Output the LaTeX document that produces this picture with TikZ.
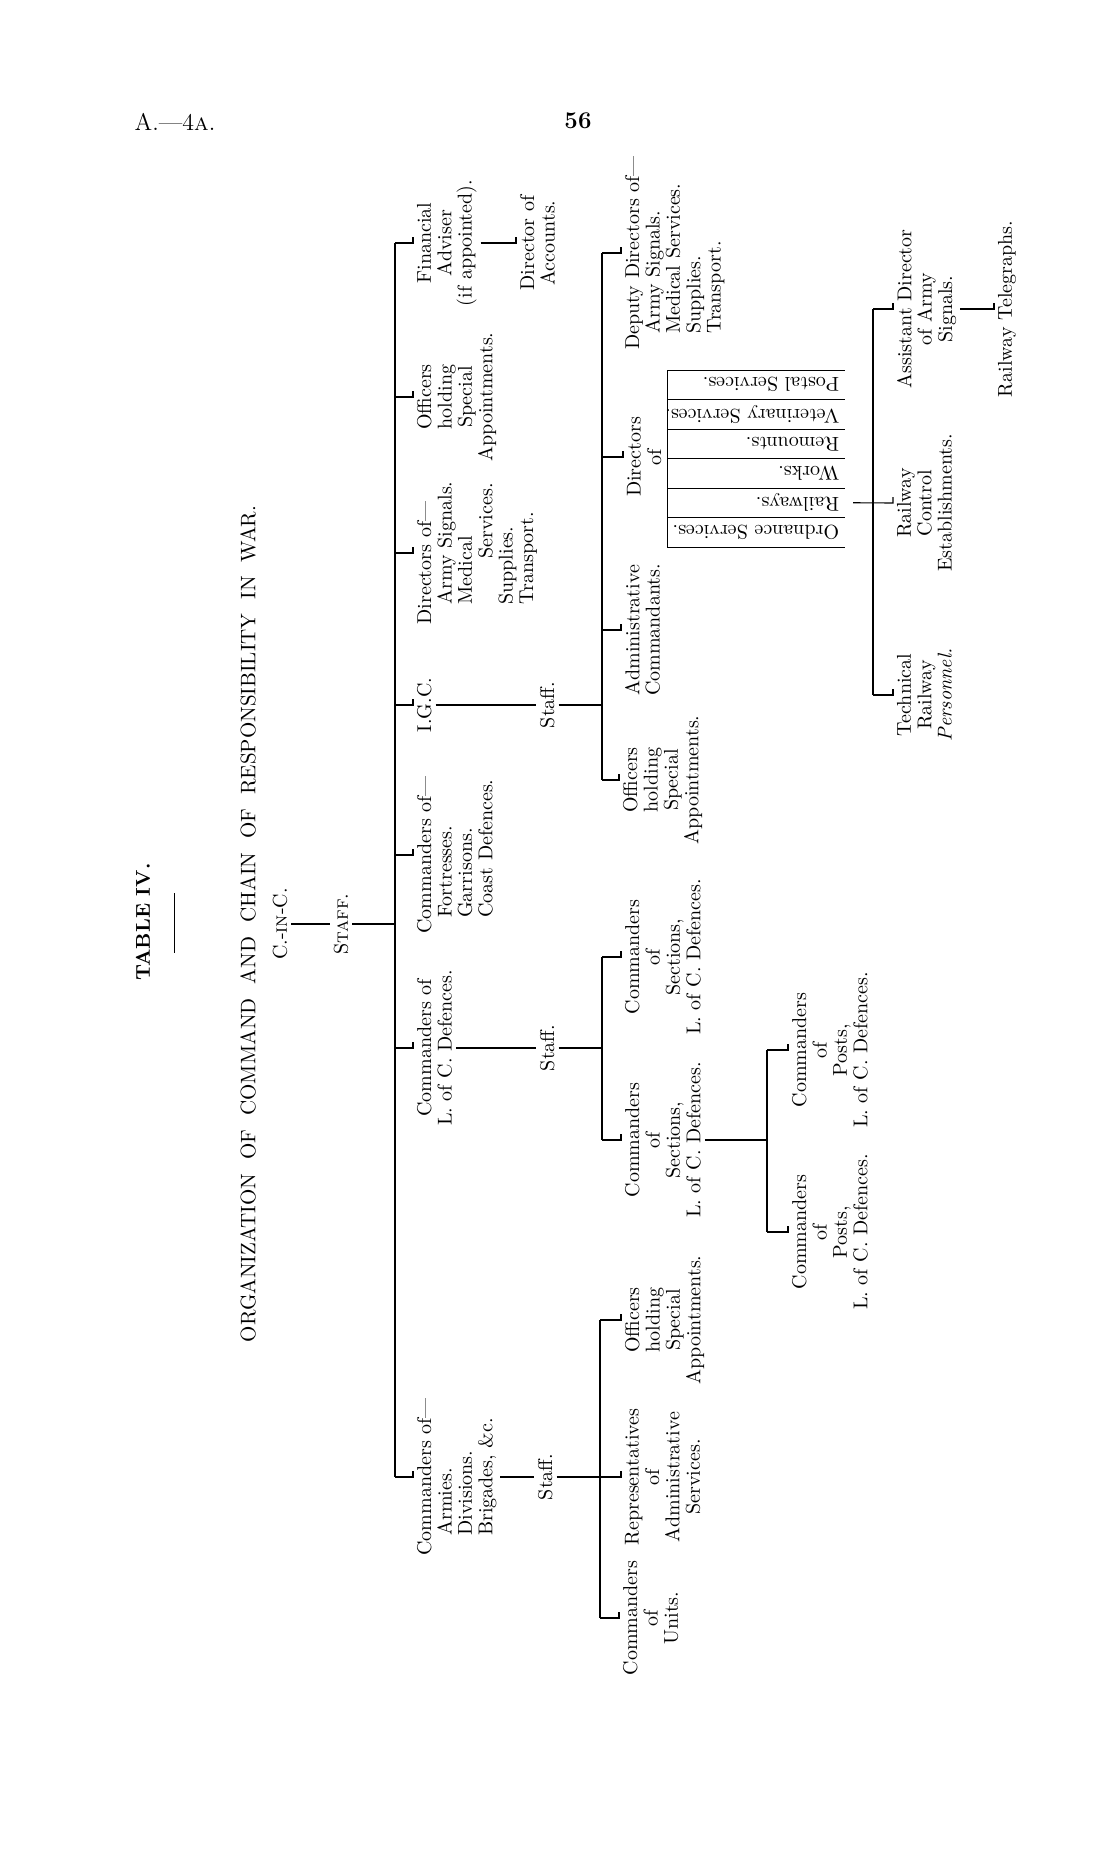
\documentclass[tikz,border=0pt]{standalone}
\usepackage{fontspec}
\begin{document}
\begin{tikzpicture}[x=0.5pt,y=-0.5pt]

    \tikzset{
      lab/.style={
        rotate=90,
        align=center,
        inner sep=0pt,
        outer sep=2pt,
        anchor=north,
        font=\fontsize{10}{10.2}\selectfont,
      },
      labl/.style={lab, align=left},
      rowtext/.style={
        rotate=180,
        inner sep=0pt,
        outer sep=2pt,
        anchor=west,
        font=\fontsize{10}{10.2}\selectfont,
      },
      hdr/.style={inner sep=0pt, font=\fontsize{12}{14}\selectfont},
      link/.style={line width=0.55pt},
      rule/.style={line width=0.45pt},
    }
    \useasboundingbox (0,0) rectangle (1114,1851);

    % page head
    \node[hdr] (pageref) at (175,122) {A.---4\textsc{a}.};
    \node[hdr, font=\bfseries\fontsize{12}{14}\selectfont] (pagenum) at (578,121) {56};

    % titles
    \node[lab, anchor=center, font={\bfseries\fontsize{10}{12}\selectfont}] (tabno) at (143,922) {TABLE IV.};
    \draw[rule] (174,893) -- (174,953);
    \node[lab, anchor=center, font={\fontsize{10.5}{12}\selectfont}] (title) at (248,924)
      {\spaceskip=7pt ORGANIZATION OF COMMAND AND CHAIN OF RESPONSIBILITY IN WAR.};

    \node[lab, anchor=center] (cinc) at (280,924) {C.-\textsc{in}-C.};
    \node[lab, anchor=center] (staff) at (341,924) {S\textsc{taff}.};

    \coordinate (bus) at (395,0);
    \coordinate (igcbus) at (602,0);
    \coordinate (lcdbus) at (602,0);
    \coordinate (postbus) at (767,0);
    \coordinate (armbus) at (600,0);
    \coordinate (railbus) at (873,0);
    \coordinate (tabedge) at (853,0);

    % first line under the staff
    \node[lab] (fin) at (413,243) {Financial\\Adviser\\(if appointed).};
    \node[lab] (acc) at (516,243) {Director of\\Accounts.};
    \node[lab] (off1) at (413,397) {Officers\\holding\\Special\\Appointments.};
    \node[labl] (dirs) at (413,553) {Directors of---\\\hspace*{10pt}Army Signals.\\\hspace*{10pt}Medical\\\hspace*{33pt}Services.\\\hspace*{10pt}Supplies.\\\hspace*{10pt}Transport.};
    \node[lab] (igc) at (413,705) {I.G.C.};
    \node[lab] (igcstaff) at (536,705) {Staff.};
    \node[labl] (fort) at (413,855) {Commanders of---\\\hspace*{8pt}Fortresses.\\\hspace*{8pt}Garrisons.\\\hspace*{8pt}Coast Defences.};
    \node[lab] (lcd) at (413,1048) {Commanders of\\L. of C. Defences.};
    \node[lab] (lcdstaff) at (536,1048) {Staff.};
    \node[labl] (arm) at (413,1477) {Commanders of---\\\hspace*{10pt}Armies.\\\hspace*{10pt}Divisions.\\\hspace*{10pt}Brigades, \&c.};
    \node[lab] (armstaff) at (534,1477) {Staff.};

    % under the I.G.C.
    \node[labl] (dd) at (621,253) {Deputy Directors of---\\\hspace*{8pt}Army Signals.\\\hspace*{8pt}Medical Services.\\\hspace*{8pt}Supplies.\\\hspace*{8pt}Transport.};
    \node[lab] (dirof) at (623,457) {Directors\\of};
    \node[lab] (adm) at (621,630) {Administrative\\Commandants.};
    \node[lab] (off2) at (619,780) {Officers\\holding\\Special\\Appointments.};

    \draw[rule] (667,370) -- (667,547);
    \foreach \r in {0,...,6}
      \draw[rule] (667,370+29.5*\r) -- (845,370+29.5*\r);
    \foreach \t [count=\i] in {{Postal Services.}, {Veterinary Services.}, {Remounts.}, {Works.}, {Railways.}, {Ordnance Services.}}
      \node[rowtext] (row\i) at (843,355.25+29.5*\i) {\t};

    \node[lab] (ads) at (893,309) {Assistant Director\\of Army\\Signals.};
    \node[lab] (rt) at (994,309) {Railway Telegraphs.};
    \node[lab] (rce) at (893,503) {Railway\\Control\\Establishments.};
    \node[lab] (trp) at (893,695) {Technical\\Railway\\\textit{Personnel.}};

    % under the L. of C. Defences
    \node[lab] (sec1) at (621,957) {Commanders\\of\\Sections,\\L. of C. Defences.};
    \node[lab] (sec2) at (621,1140) {Commanders\\of\\Sections,\\L. of C. Defences.};
    \node[lab] (post1) at (788,1050) {Commanders\\of\\Posts,\\L. of C. Defences.};
    \node[lab] (post2) at (788,1232) {Commanders\\of\\Posts,\\L. of C. Defences.};

    % under the Armies
    \node[lab] (off3) at (621,1320) {Officers\\holding\\Special\\Appointments.};
    \node[lab] (rep) at (621,1477) {Representatives\\of\\Administrative\\Services.};
    \node[lab] (units) at (619,1618) {Commanders\\of\\Units.};

    % connectors
    \draw[link] (cinc.south) -- (staff.north);
    \draw[link] (staff.south) -- (staff.south -| bus);
    \draw[link] (fin.north -| bus) -- (arm.north -| bus);
    \foreach \n in {fin,off1,dirs,igc,fort,lcd,arm}
      \draw[link] (\n.north -| bus) -- (\n.north) -- ++(0,-6);
    \draw[link] (fin.south) -- (acc.north) -- ++(0,-6);

    \draw[link] (igc.south) -- (igcstaff.north);
    \draw[link] (igcstaff.south) -- (igcstaff.south -| igcbus);
    \draw[link] (dd.north -| igcbus) -- (off2.north -| igcbus);
    \foreach \n in {dd,dirof,adm,off2}
      \draw[link] (\n.north -| igcbus) -- (\n.north) -- ++(0,-6);

    \draw[link] (row5.west -| tabedge) -- (rce.north) -- ++(0,-6);
    \draw[link] (ads.north -| railbus) -- (trp.north -| railbus);
    \foreach \n in {ads,trp}
      \draw[link] (\n.north -| railbus) -- (\n.north) -- ++(0,-6);
    \draw[link] (ads.south) -- (rt.north) -- ++(0,-6);

    \draw[link] (lcd.south) -- (lcdstaff.north);
    \draw[link] (lcdstaff.south) -- (lcdstaff.south -| lcdbus);
    \draw[link] (sec1.north -| lcdbus) -- (sec2.north -| lcdbus);
    \foreach \n in {sec1,sec2}
      \draw[link] (\n.north -| lcdbus) -- (\n.north) -- ++(0,-6);
    \draw[link] (sec2.south) -- (sec2.south -| postbus);
    \draw[link] (post1.north -| postbus) -- (post2.north -| postbus);
    \foreach \n in {post1,post2}
      \draw[link] (\n.north -| postbus) -- (\n.north) -- ++(0,-6);

    \draw[link] (arm.south) -- (armstaff.north);
    \draw[link] (armstaff.south) -- (armstaff.south -| armbus);
    \draw[link] (off3.north -| armbus) -- (units.north -| armbus);
    \foreach \n in {off3,rep,units}
      \draw[link] (\n.north -| armbus) -- (\n.north) -- ++(0,-6);

\end{tikzpicture}
\end{document}
